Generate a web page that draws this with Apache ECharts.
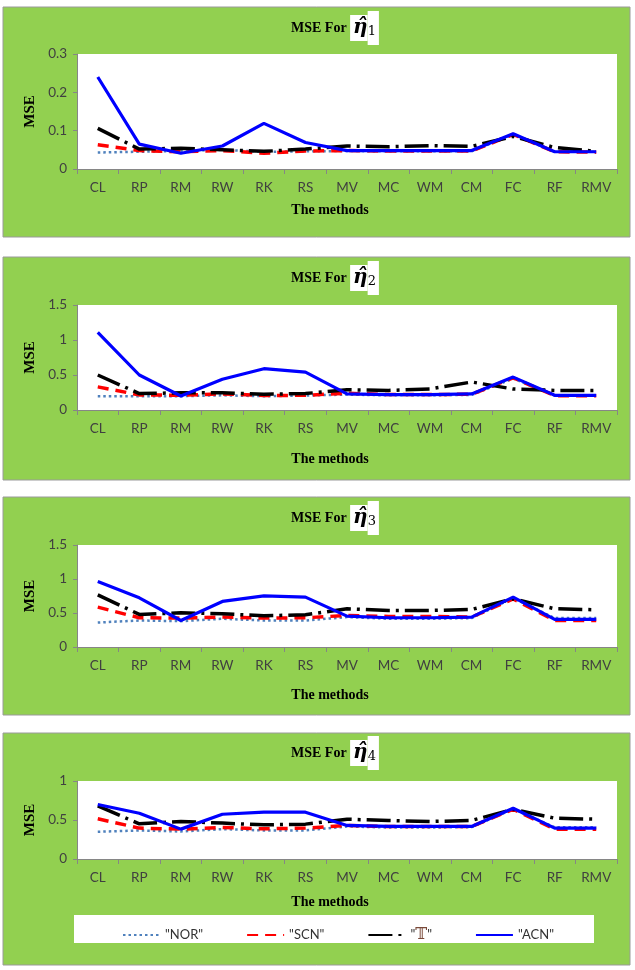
<!DOCTYPE html>
<html>
<head>
<meta charset="utf-8">
<script src="https://cdn.jsdelivr.net/npm/echarts@6/dist/echarts.min.js"></script>
<style>
  html, body { margin: 0; padding: 0; background: #fff; }
  #main { width: 635px; height: 970px; }
</style>
</head>
<body>
<div id="main"></div>
<script>
// categories
var methods = ['CL', 'RP', 'RM', 'RW', 'RK', 'RS', 'MV', 'MC', 'WM', 'CM', 'FC', 'RF', 'RMV'];
var seriesNames = ['"NOR"', '"SCN"', '"\uD835\uDD4B"', '"ACN"'];

// MSE for eta1
var nor1 = [0.043, 0.045, 0.047, 0.050, 0.045, 0.046, 0.047, 0.046, 0.046, 0.046, 0.090, 0.045, 0.045];
var scn1 = [0.063, 0.048, 0.045, 0.048, 0.041, 0.047, 0.048, 0.047, 0.047, 0.047, 0.090, 0.045, 0.044];
var tt1  = [0.106, 0.052, 0.054, 0.050, 0.046, 0.052, 0.060, 0.058, 0.061, 0.059, 0.085, 0.056, 0.046];
var acn1 = [0.240, 0.065, 0.041, 0.060, 0.119, 0.069, 0.048, 0.048, 0.048, 0.048, 0.092, 0.045, 0.045];

// MSE for eta2
var nor2 = [0.197, 0.197, 0.197, 0.210, 0.197, 0.207, 0.220, 0.210, 0.210, 0.215, 0.450, 0.205, 0.205];
var scn2 = [0.330, 0.216, 0.210, 0.230, 0.207, 0.210, 0.240, 0.220, 0.220, 0.225, 0.460, 0.205, 0.205];
var tt2  = [0.500, 0.235, 0.245, 0.245, 0.225, 0.235, 0.290, 0.280, 0.300, 0.400, 0.300, 0.280, 0.280];
var acn2 = [1.110, 0.500, 0.200, 0.440, 0.590, 0.540, 0.230, 0.220, 0.220, 0.230, 0.470, 0.210, 0.210];

// MSE for eta3
var nor3 = [0.360, 0.390, 0.380, 0.415, 0.390, 0.390, 0.440, 0.415, 0.415, 0.425, 0.720, 0.425, 0.425];
var scn3 = [0.586, 0.430, 0.425, 0.440, 0.425, 0.430, 0.464, 0.450, 0.450, 0.440, 0.708, 0.390, 0.390];
var tt3  = [0.767, 0.479, 0.503, 0.489, 0.459, 0.474, 0.562, 0.537, 0.537, 0.552, 0.708, 0.562, 0.547];
var acn3 = [0.963, 0.723, 0.390, 0.670, 0.752, 0.733, 0.454, 0.430, 0.430, 0.440, 0.733, 0.405, 0.405];

// MSE for eta4
var nor4 = [0.349, 0.366, 0.353, 0.383, 0.366, 0.366, 0.417, 0.404, 0.404, 0.408, 0.640, 0.408, 0.408];
var scn4 = [0.515, 0.396, 0.383, 0.404, 0.387, 0.396, 0.430, 0.417, 0.417, 0.417, 0.638, 0.383, 0.383];
var tt4  = [0.680, 0.451, 0.481, 0.460, 0.438, 0.447, 0.510, 0.494, 0.481, 0.494, 0.638, 0.523, 0.510];
var acn4 = [0.698, 0.587, 0.383, 0.574, 0.600, 0.600, 0.430, 0.417, 0.417, 0.417, 0.651, 0.396, 0.396];

// y axis settings per panel
var yMax = [0.3, 1.5, 1.5, 1];
var yStep = [0.1, 0.5, 0.5, 0.5];

var panelData = [
  [nor1, scn1, tt1, acn1],
  [nor2, scn2, tt2, acn2],
  [nor3, scn3, tt3, acn3],
  [nor4, scn4, tt4, acn4]
];

var myChart = echarts.init(document.getElementById('main'));

// layout of the four panels
var panels = [
  { box: [3, 7, 627, 230],   gridTop: 54,  gridH: 115, titleTop: 6,   nameGap: 34 },
  { box: [3, 257, 627, 223], gridTop: 305, gridH: 105, titleTop: 256, nameGap: 42 },
  { box: [3, 497, 627, 218], gridTop: 545, gridH: 102, titleTop: 496, nameGap: 41 },
  { box: [3, 733, 627, 232], gridTop: 781, gridH: 78,  titleTop: 731, nameGap: 36 }
];

var lineStyles = [
  { color: '#4f81bd', width: 2.5, type: [2.5, 3] },
  { color: '#ff0000', width: 3.5, type: [11, 7] },
  { color: '#000000', width: 3.5, type: [24, 6, 3, 6] },
  { color: '#0000ff', width: 3.2, type: 'solid' }
];

var grids = [], xAxes = [], yAxes = [], titles = [], series = [], graphics = [];

panels.forEach(function (p, i) {
  graphics.push({
    type: 'rect', z: -10,
    shape: { x: p.box[0], y: p.box[1], width: p.box[2], height: p.box[3] },
    style: { fill: '#92d050', stroke: '#9a9a9a', lineWidth: 1 }
  });

  grids.push({
    left: 77, right: 18, top: p.gridTop, height: p.gridH,
    show: true, backgroundColor: '#ffffff', borderWidth: 0
  });

  titles.push({
    text: 'MSE For {e|\u03B7\u0302}{s|' + (i + 1) + '}',
    left: 286, top: p.titleTop,
    textStyle: {
      fontFamily: 'Liberation Serif', fontWeight: 'bold', fontSize: 14, color: '#000',
      rich: {
        e: { fontFamily: 'DejaVu Serif', fontWeight: 'bold', fontStyle: 'italic', fontSize: 20,
             color: '#000', backgroundColor: '#fff', height: 26, padding: [0, 0, 0, 3] },
        s: { fontFamily: 'DejaVu Serif', fontWeight: 'normal', fontSize: 13,
             color: '#000', backgroundColor: '#fff', height: 26, padding: [8, 3, 0, 0] }
      }
    }
  });

  xAxes.push({
    type: 'category', gridIndex: i, data: methods, boundaryGap: true,
    name: 'The methods', nameLocation: 'middle', nameGap: p.nameGap,
    nameTextStyle: { fontFamily: 'Liberation Serif', fontWeight: 'bold', fontSize: 14,
                     color: '#000', padding: [0, 34, 0, 0] },
    axisLine: { lineStyle: { color: '#868686', width: 1 } },
    axisTick: { show: true, length: 5, lineStyle: { color: '#868686' } },
    axisLabel: { fontFamily: 'Lato', fontSize: 13.5, color: '#404040', margin: 12, interval: 0 },
    splitLine: { show: false }
  });

  yAxes.push({
    type: 'value', gridIndex: i, min: 0, max: yMax[i], interval: yStep[i],
    name: 'MSE', nameLocation: 'middle', nameGap: 37, nameRotate: 90,
    nameTextStyle: { fontFamily: 'Liberation Serif', fontWeight: 'bold', fontSize: 15, color: '#000' },
    axisLine: { show: true, lineStyle: { color: '#868686', width: 1 } },
    axisTick: { show: true, length: 4, lineStyle: { color: '#868686' } },
    axisLabel: { fontFamily: 'Lato', fontSize: 13.5, color: '#404040', margin: 10 },
    splitLine: { show: false }
  });

  panelData[i].forEach(function (vals, k) {
    series.push({
      name: seriesNames[k], type: 'line',
      xAxisIndex: i, yAxisIndex: i,
      data: vals, symbol: 'none', smooth: false,
      lineStyle: lineStyles[k],
      itemStyle: { color: lineStyles[k].color },
      z: 2 + k
    });
  });
});

// legend box
graphics.push({
  type: 'rect', z: -5,
  shape: { x: 74, y: 915, width: 520, height: 28 },
  style: { fill: '#ffffff' }
});

var option = {
  animation: false,
  backgroundColor: '#ffffff',
  title: titles,
  grid: grids,
  xAxis: xAxes,
  yAxis: yAxes,
  graphic: graphics,
  legend: {
    data: seriesNames,
    left: 117, top: 922,
    itemWidth: 37, itemHeight: 14, itemGap: 43,
    itemStyle: { opacity: 0 },
    formatter: function (name) {
      if (name === seriesNames[2]) return '"{t|\uD835\uDD4B}"';
      return name;
    },
    textStyle: {
      fontFamily: 'Lato', fontSize: 13, color: '#333',
      rich: { t: { fontFamily: 'DejaVu Serif', fontSize: 16, color: '#7a4a3a' } }
    }
  },
  series: series
};

myChart.setOption(option);
</script>
</body>
</html>
